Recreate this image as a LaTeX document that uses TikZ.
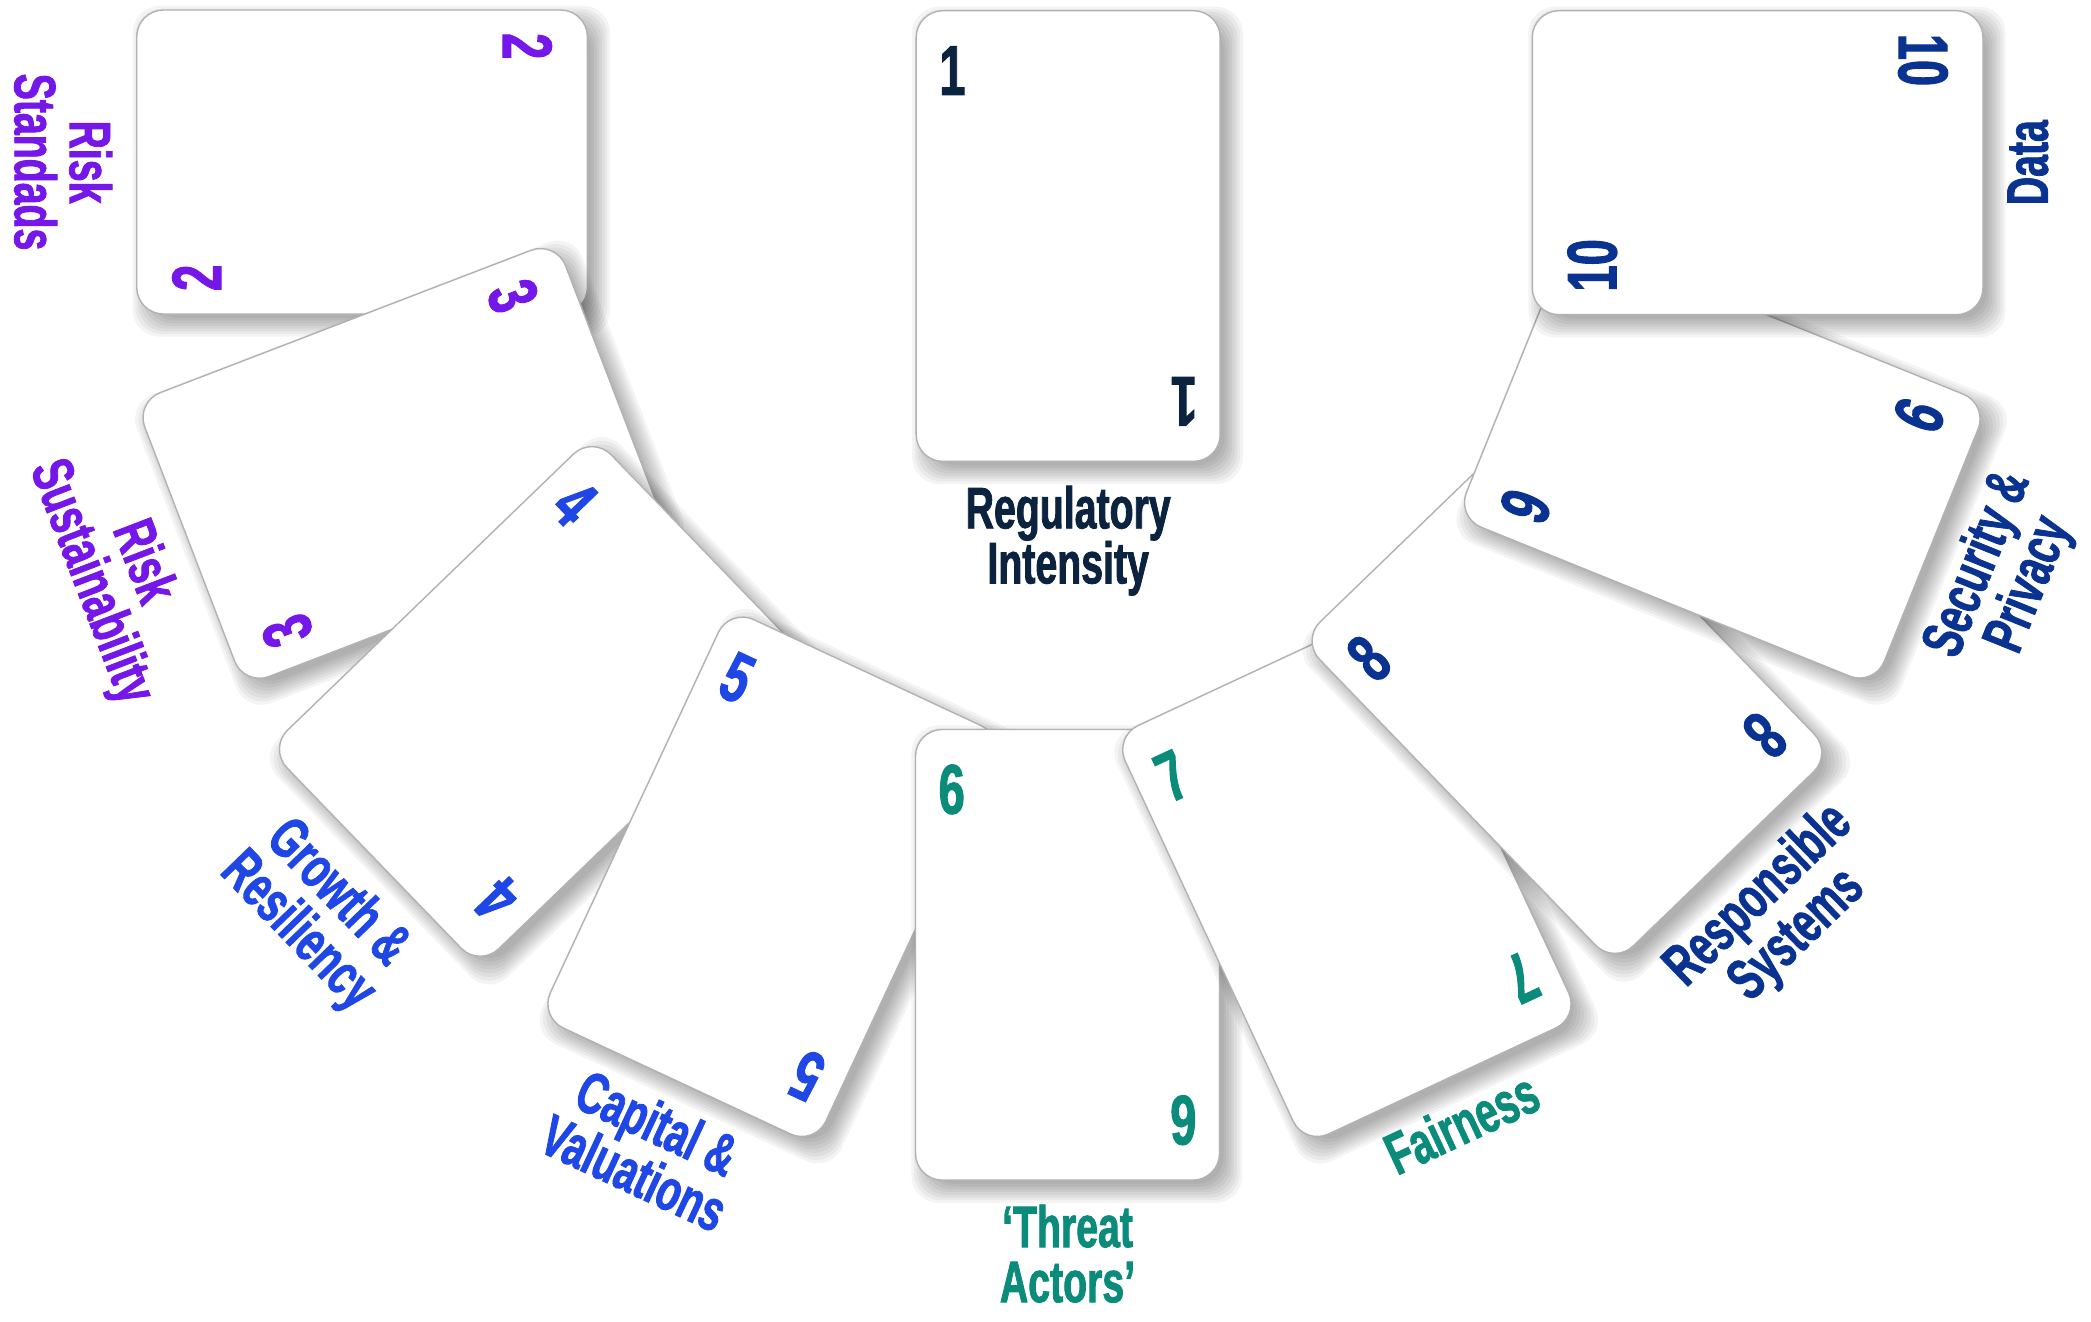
\documentclass[tikz,border=0pt]{standalone}
\usepackage{fontspec}
\setmainfont{Liberation Sans}
\newfontfamily\condensed[FakeStretch=0.67, BoldFeatures={FakeBold=1.4}]{Liberation Sans}
\usepackage{xcolor}
\usetikzlibrary{calc}

\definecolor{cardnavy}{HTML}{0C2340}
\definecolor{cardpurple}{HTML}{7417E8}
\definecolor{cardblue}{HTML}{1F47E5}
\definecolor{cardteal}{HTML}{0B8C7B}
\definecolor{carddeep}{HTML}{0A3391}

\tikzset{
	card/.style={draw=black!30, line width=0.6pt, fill=white, rounded corners=0.4cm,
		minimum width=4.56cm, minimum height=6.76cm, inner sep=0pt},
	cardnum/.style={font=\condensed\bfseries\fontsize{30}{30}\selectfont, inner sep=0pt},
	cardlabel/.style={font=\condensed\bfseries\fontsize{25}{23.5}\selectfont, align=center, inner sep=0pt},
}

\begin{document}
\begin{tikzpicture}[x=0.02cm, y=0.02cm]
			% number, x, y, angle, colour, label
			\def\playcard#1#2#3#4#5#6{
				\begin{scope}[shift={(#2+7,#3-7)}, rotate=#4]
					\foreach \g in {0,...,7}
						\fill[black, opacity=.045, rounded corners=0.4cm] (-110-2*\g,-165-2*\g) rectangle (110+2*\g,165+2*\g);
				\end{scope}
				\begin{scope}[shift={(#2,#3)}, rotate=#4, transform shape]
					\node[card] (card#1) at (0,0) {};
					\node[cardnum, text=#5, anchor=west] (top#1) at (-97,124) {#1};
					\node[cardnum, text=#5, anchor=west, rotate=180] (bot#1) at (97,-124) {#1};
					\node[cardlabel, text=#5, anchor=north] (label#1) at (0,-187) {#6};
				\end{scope}
			}
			\fill[white] (0,0) rectangle (1568,991);
			\useasboundingbox (0,0) rectangle (1568,991);
			\playcard{1}{801}{814}{0}{cardnavy}{Regulatory\\Intensity}
			\playcard{2}{271.5}{869.5}{-90}{cardpurple}{Risk\\Standads}
			\playcard{3}{300}{643.5}{-69}{cardpurple}{Risk\\Sustainability}
			\playcard{4}{402}{465}{-46}{cardblue}{Growth \&\\Resiliency}
			\playcard{5}{579}{333.5}{-25}{cardblue}{Capital \&\\Valuations}
			\playcard{6}{800.5}{275}{0}{cardteal}{‘Threat\\Actors’}
			\playcard{7}{1010}{333.5}{25}{cardteal}{Fairness}
			\playcard{8}{1175}{468.5}{44}{carddeep}{Responsible\\Systems}
			\playcard{9}{1291.5}{645.5}{68}{carddeep}{Security \&\\Privacy}
			\playcard{10}{1318}{869}{90}{carddeep}{Data}
\end{tikzpicture}
\end{document}
